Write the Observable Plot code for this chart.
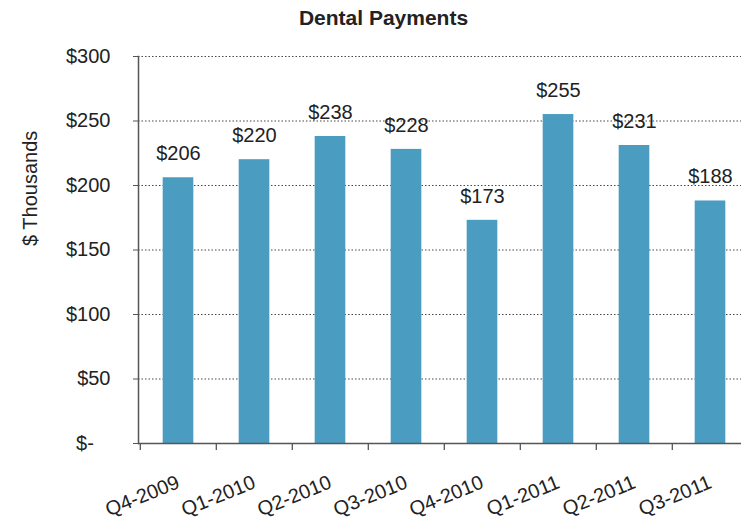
<!DOCTYPE html>
<html>
<head>
<meta charset="utf-8">
<script src="https://cdn.jsdelivr.net/npm/d3@7"></script>
<script src="https://cdn.jsdelivr.net/npm/@observablehq/plot@0.6"></script>
<style>
  html, body { margin: 0; padding: 0; background: #fff; overflow: hidden; }
  #wrap { width: 741px; height: 527px; overflow: hidden; position: relative; }
  #title { height: 36px; padding-top: 6px; line-height: 30px; text-align: center; font: bold 21px "Liberation Sans", Arial, sans-serif; color: #222; padding-left: 26px; box-sizing: border-box; width: 741px; }
  #chart svg { max-width: none !important; }
</style>
</head>
<body>
<div id="wrap">
  <div id="title">Dental Payments</div>
  <div id="chart"></div>
</div>
<script>
const quarters = ["Q4-2009", "Q1-2010", "Q2-2010", "Q3-2010", "Q4-2010", "Q1-2011", "Q2-2011", "Q3-2011"];
const payments = [206, 220, 238, 228, 173, 255, 231, 188];
const yTicks = [0, 50, 100, 150, 200, 250, 300];

const data = quarters.map((q, i) => ({quarter: q, value: payments[i]}));

const W = 760, ML = 138, MR = 11;
const bw = (W - ML - MR) / quarters.length;
const barW = 31;
const inset = (bw - barW) / 2;
const font = '"Liberation Sans", Arial, sans-serif';

const chart = Plot.plot({
  width: W,
  height: 491,
  marginLeft: ML,
  marginRight: MR,
  marginTop: 20,
  marginBottom: 84,
  style: {fontFamily: font, fontSize: "20px", color: "#222", background: "transparent", overflow: "visible"},
  x: {domain: quarters, padding: 0, label: null},
  y: {domain: [0, 300], label: null},
  marks: [
    Plot.gridY(yTicks.filter(d => d > 0), {stroke: "#333", strokeOpacity: 0.9, strokeDasharray: "1.5,2", strokeWidth: 1.2}),
    Plot.barY(data, {x: "quarter", y: "value", fill: "#4a9cc0", insetLeft: inset, insetRight: inset}),
    Plot.ruleY([0], {stroke: "#555", strokeWidth: 1.5}),
    Plot.frame({anchor: "left", stroke: "#555", strokeWidth: 1.5}),
    Plot.ruleX(quarters, {x: d => d, y1: 0, y2: -5.5, dx: -bw / 2, stroke: "#555", strokeWidth: 1.3}),
    Plot.axisY({ticks: yTicks, tickSize: 5, tickPadding: 23, stroke: "#555",
      tickFormat: d => d === 0 ? "$-\u00a0\u00a0\u00a0" : "$" + d, fontSize: 20}),
    Plot.axisX({tickSize: 0, tickRotate: -22, tickPadding: 38, fontSize: 20, dx: 0}),
    Plot.text(data, {x: "quarter", y: "value", text: d => "$" + d.value, dy: -24, fontSize: 20, fill: "#222"}),
    Plot.text(["$ Thousands"], {frameAnchor: "left", rotate: -90, dx: -108, dy: -4, fontSize: 20, fill: "#222"})
  ]
});
document.getElementById("chart").appendChild(chart);
</script>
</body>
</html>
